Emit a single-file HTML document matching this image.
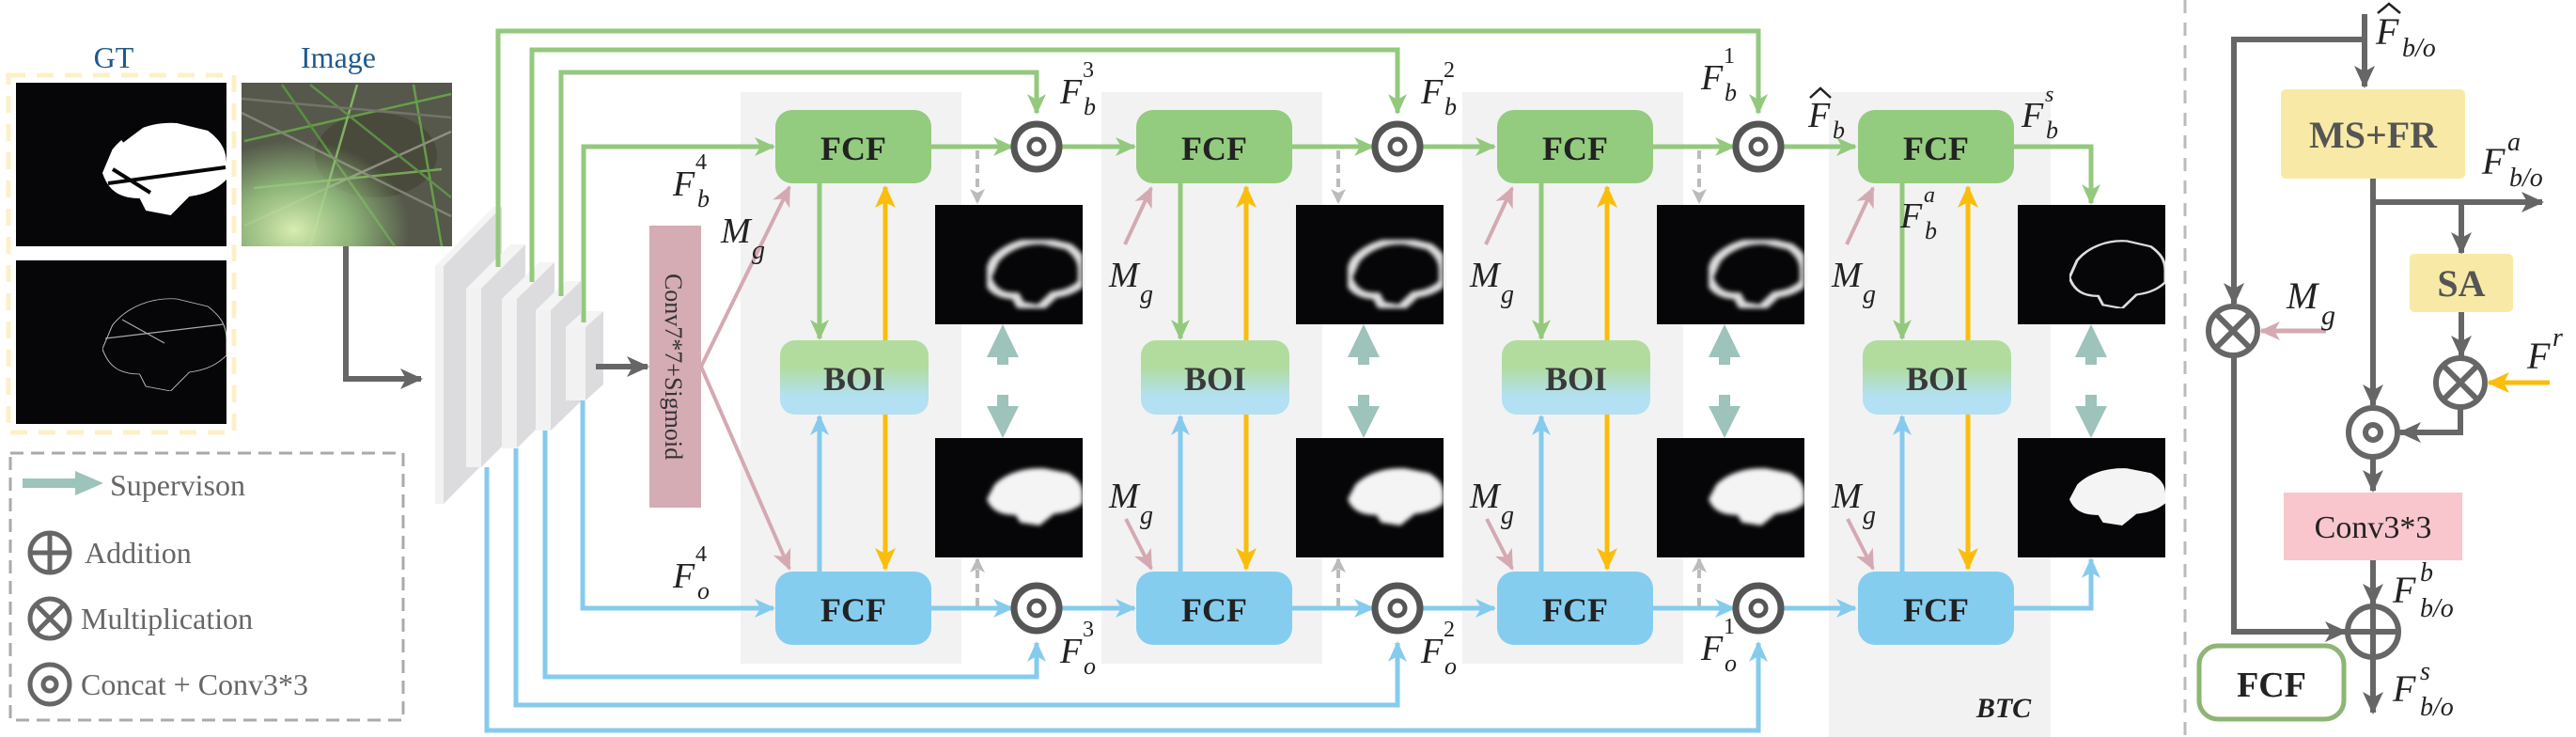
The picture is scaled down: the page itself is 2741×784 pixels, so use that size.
<!DOCTYPE html>
<html><head><meta charset="utf-8">
<style>
html,body{margin:0;padding:0;background:#fff;}
svg{display:block;}
svg text{font-family:"Liberation Serif","DejaVu Serif",serif;}
.m{font-style:italic;fill:#222;}
.b{font-weight:bold;fill:#222;}
</style></head><body>
<svg width="2741" height="784" viewBox="0 0 2741 784" xmlns="http://www.w3.org/2000/svg">
<defs>
<marker id="ag" markerUnits="userSpaceOnUse" markerWidth="24" markerHeight="24" refX="20" refY="12" orient="auto"><path d="M0,2 L22,12 L0,22 L6,12 Z" fill="#93c97d"/></marker>
<marker id="abl" markerUnits="userSpaceOnUse" markerWidth="24" markerHeight="24" refX="20" refY="12" orient="auto"><path d="M0,2 L22,12 L0,22 L6,12 Z" fill="#85cbee"/></marker>
<marker id="ay" markerUnits="userSpaceOnUse" markerWidth="26" markerHeight="26" refX="22" refY="13" orient="auto"><path d="M0,2 L24,13 L0,24 L6,13 Z" fill="#fbbd0c"/></marker>
<marker id="ap" markerUnits="userSpaceOnUse" markerWidth="24" markerHeight="24" refX="20" refY="12" orient="auto"><path d="M0,2 L22,12 L0,22 L6,12 Z" fill="#d5a9b2"/></marker>
<marker id="agr" markerUnits="userSpaceOnUse" markerWidth="26" markerHeight="26" refX="22" refY="13" orient="auto"><path d="M0,2 L24,13 L0,24 L6,13 Z" fill="#666"/></marker>
<marker id="ad" markerUnits="userSpaceOnUse" markerWidth="18" markerHeight="18" refX="14" refY="9" orient="auto"><path d="M0,1 L16,9 L0,17 L4,9 Z" fill="#bbb"/></marker>
<linearGradient id="boi" x1="0" y1="0" x2="0" y2="1"><stop offset="0" stop-color="#b2dc9e"/><stop offset="0.35" stop-color="#b2dc9e"/><stop offset="0.75" stop-color="#b3e0f2"/><stop offset="1" stop-color="#b3e0f2"/></linearGradient>
<radialGradient id="blur" cx="0.25" cy="0.9" r="0.55"><stop offset="0" stop-color="#d9edb0"/><stop offset="0.5" stop-color="#9ccb85" stop-opacity="0.8"/><stop offset="1" stop-color="#9ccb85" stop-opacity="0"/></radialGradient>
<filter id="bl" x="-20%" y="-20%" width="140%" height="140%"><feGaussianBlur stdDeviation="2.5"/></filter>
<symbol id="car" viewBox="0 0 100 100" preserveAspectRatio="none"><path d="M0,55 L8,30 C20,10 40,0 60,2 L85,10 C95,20 100,30 100,45 L100,62 C90,75 80,78 70,80 L55,100 L35,95 L30,82 C15,82 5,75 0,55 Z"/></symbol>
<symbol id="conc"><circle cx="30" cy="30" r="24" fill="#fff" stroke="#555" stroke-width="7"/><circle cx="30" cy="30" r="8" fill="none" stroke="#555" stroke-width="5"/></symbol>
</defs>

<rect x="788" y="98" width="235" height="608" fill="#f2f2f2"/>
<rect x="1172" y="98" width="235" height="608" fill="#f2f2f2"/>
<rect x="1556" y="98" width="235" height="608" fill="#f2f2f2"/>
<rect x="1946" y="98" width="236" height="686" fill="#f2f2f2"/>
<text x="2132" y="763" class="b" font-style="italic" font-size="30" text-anchor="middle">BTC</text>

<text x="121" y="72" font-size="32" fill="#1f5a8c" text-anchor="middle">GT</text>
<text x="360" y="72" font-size="32" fill="#1f5a8c" text-anchor="middle">Image</text>
<rect x="9" y="80" width="240" height="380" fill="none" stroke="#fdf0c8" stroke-width="5" stroke-dasharray="18 12"/>
<rect x="17" y="88" width="224" height="174" fill="#060608"/>
<use href="#car" x="109" y="129" width="132" height="100" fill="#fff"/>
<path d="M115,195 L240,178 M120,180 L160,205 M130,150 L170,120" stroke="#060608" stroke-width="4" fill="none"/>
<rect x="17" y="277" width="224" height="174" fill="#060608"/>
<use href="#car" x="109" y="316" width="132" height="100" fill="none" stroke="#bbb" stroke-width="0.8"/>
<path d="M112,360 L238,345 M130,340 L175,365" stroke="#aaa" stroke-width="1.2" fill="none"/>
<rect x="257" y="88" width="224" height="174" fill="#55584a"/>
<ellipse cx="400" cy="165" rx="65" ry="45" fill="#4a4a3c"/>
<g stroke-width="2.5" fill="none" opacity="0.85">
<path d="M260,150 L480,100" stroke="#6bab4a"/><path d="M270,200 L470,180" stroke="#7fb65a"/><path d="M300,90 L420,262" stroke="#5a9a40"/>
<path d="M380,90 L330,262" stroke="#8bc26a"/><path d="M257,120 L480,230" stroke="#8a8a80"/><path d="M440,90 L470,262" stroke="#6bab4a"/>
<path d="M260,240 L480,140" stroke="#999a8a"/><path d="M330,90 L480,210" stroke="#5f9c48"/><path d="M257,105 L480,125" stroke="#7a7a70"/>
</g>
<rect x="257" y="88" width="224" height="174" fill="url(#blur)"/>
<path d="M368,262 L368,403 L448,403" stroke="#666" stroke-width="6" fill="none" marker-end="url(#agr)"/>

<g>
<polygon points="472,283 534,220 534,473 472,536" fill="#dcdcde"/><polygon points="463,283 525,220 534,220 472,283" fill="#f4f4f4"/><rect x="463" y="283" width="9" height="253" fill="#f2f2f2"/>
<polygon points="512,307 559,260 559,450 512,497" fill="#dcdcde"/><polygon points="496,307 543,260 559,260 512,307" fill="#f4f4f4"/><rect x="496" y="307" width="16" height="190" fill="#f2f2f2"/>
<polygon points="550,318 590,279 590,437 550,477" fill="#dcdcde"/><polygon points="534,318 574,279 590,279 550,318" fill="#f4f4f4"/><rect x="534" y="318" width="16" height="159" fill="#f2f2f2"/>
<polygon points="586,330 618,299 618,427 586,458" fill="#dcdcde"/><polygon points="570,330 602,299 618,299 586,330" fill="#f4f4f4"/><rect x="570" y="330" width="16" height="128" fill="#f2f2f2"/>
<polygon points="623,348 642,331 642,409 623,426" fill="#dcdcde"/><polygon points="602,348 621,331 642,331 623,348" fill="#f4f4f4"/><rect x="602" y="348" width="21" height="78" fill="#f2f2f2"/>
</g>
<g stroke="#93c97d" stroke-width="5" fill="none">
<path d="M530,284 L530,33 L1871,33 L1871,120" marker-end="url(#ag)"/>
<path d="M566,300 L566,53 L1487,53 L1487,120" marker-end="url(#ag)"/>
<path d="M597,315 L597,77 L1103,77 L1103,120" marker-end="url(#ag)"/>
<path d="M621,343 L621,156 L823,156" marker-end="url(#ag)"/>
</g>
<g stroke="#85cbee" stroke-width="5" fill="none">
<path d="M620,426 L620,647 L823,647" marker-end="url(#abl)"/>
<path d="M580,458 L580,720 L1103,720 L1103,684" marker-end="url(#abl)"/>
<path d="M549,477 L549,750 L1487,750 L1487,684" marker-end="url(#abl)"/>
<path d="M518,497 L518,777 L1871,777 L1871,684" marker-end="url(#abl)"/>
</g>
<path d="M634,390 L689,390" stroke="#666" stroke-width="6" marker-end="url(#agr)"/>
<rect x="691" y="240" width="55" height="300" fill="#d5abb4"/>
<text transform="translate(708,390) rotate(90)" font-size="26" fill="#333" text-anchor="middle">Conv7*7+Sigmoid</text>
<path d="M746,390 L840,199" stroke="#d5a9b2" stroke-width="4" marker-end="url(#ap)"/>
<path d="M746,390 L840,605" stroke="#d5a9b2" stroke-width="4" marker-end="url(#ap)"/>

<g stroke="#93c97d" stroke-width="5" fill="none">
<path d="M991,156 L1077,156" marker-end="url(#ag)"/><path d="M1127,156 L1207,156" marker-end="url(#ag)"/>
<path d="M1375,156 L1461,156" marker-end="url(#ag)"/><path d="M1511,156 L1590,156" marker-end="url(#ag)"/>
<path d="M1758,156 L1845,156" marker-end="url(#ag)"/><path d="M1895,156 L1974,156" marker-end="url(#ag)"/>
<path d="M2142,156 L2225,156 L2225,216" marker-end="url(#ag)"/>
</g>
<g stroke="#85cbee" stroke-width="5" fill="none">
<path d="M991,647 L1077,647" marker-end="url(#abl)"/><path d="M1127,647 L1207,647" marker-end="url(#abl)"/>
<path d="M1375,647 L1461,647" marker-end="url(#abl)"/><path d="M1511,647 L1590,647" marker-end="url(#abl)"/>
<path d="M1758,647 L1845,647" marker-end="url(#abl)"/><path d="M1895,647 L1974,647" marker-end="url(#abl)"/>
<path d="M2142,647 L2225,647 L2225,595" marker-end="url(#abl)"/>
</g>
<use href="#conc" x="1073" y="126"/><use href="#conc" x="1457" y="126"/><use href="#conc" x="1841" y="126"/>
<use href="#conc" x="1073" y="617"/><use href="#conc" x="1457" y="617"/><use href="#conc" x="1841" y="617"/>

<g id="col">
<path d="M872,195 L872,360" stroke="#93c97d" stroke-width="5" marker-end="url(#ag)"/>
<path d="M872,608 L872,443" stroke="#85cbee" stroke-width="5" marker-end="url(#abl)"/>
<path d="M942,362 L942,199" stroke="#fbbd0c" stroke-width="5" marker-end="url(#ay)"/>
<path d="M942,441 L942,605" stroke="#fbbd0c" stroke-width="5" marker-end="url(#ay)"/>
<rect x="825" y="117" width="166" height="78" rx="18" fill="#93cb7f"/>
<text x="908" y="170" class="b" font-size="36" text-anchor="middle">FCF</text>
<rect x="830" y="362" width="158" height="79" rx="16" fill="url(#boi)"/>
<text x="909" y="415" class="b" font-size="36" text-anchor="middle" style="fill:#3a3a3a">BOI</text>
<rect x="825" y="608" width="166" height="78" rx="18" fill="#85cdee"/>
<text x="908" y="661" class="b" font-size="36" text-anchor="middle">FCF</text>
</g>
<use href="#col" x="384"/><use href="#col" x="768"/><use href="#col" x="1152"/>

<g id="tiles">
<path d="M1040,160 L1040,215" stroke="#bbb" stroke-width="4" stroke-dasharray="9 6" marker-end="url(#ad)"/>
<path d="M1040,645 L1040,595" stroke="#bbb" stroke-width="4" stroke-dasharray="9 6" marker-end="url(#ad)"/>
<rect x="995" y="218" width="157" height="127" fill="#060608"/>
<use href="#car" x="1050" y="255" width="102" height="73" fill="none" stroke="#ddd" stroke-width="10" filter="url(#bl)"/>
<rect x="995" y="466" width="157" height="127" fill="#060608"/>
<use href="#car" x="1050" y="497" width="102" height="62" fill="#f4f4f4" filter="url(#bl)"/>
<path d="M1067,345 L1084,380 L1073,380 L1073,388 L1061,388 L1061,380 L1050,380 Z" fill="#9dc3bb"/>
<path d="M1067,466 L1084,432 L1073,432 L1073,420 L1061,420 L1061,432 L1050,432 Z" fill="#9dc3bb"/>
</g>
<use href="#tiles" x="384"/><use href="#tiles" x="768"/>
<rect x="2147" y="218" width="157" height="127" fill="#060608"/>
<use href="#car" x="2202" y="255" width="102" height="73" fill="none" stroke="#ddd" stroke-width="3"/>
<rect x="2147" y="466" width="157" height="127" fill="#060608"/>
<use href="#car" x="2202" y="497" width="102" height="62" fill="#f4f4f4"/>
<path d="M2225,345 L2242,380 L2231,380 L2231,388 L2219,388 L2219,380 L2208,380 Z" fill="#9dc3bb"/>
<path d="M2225,466 L2242,432 L2231,432 L2231,420 L2219,420 L2219,432 L2208,432 Z" fill="#9dc3bb"/>

<g stroke="#d5a9b2" stroke-width="4" fill="none">
<path d="M1197,260 L1225,200" marker-end="url(#ap)"/><path d="M1198,552 L1225,605" marker-end="url(#ap)"/>
<path d="M1581,260 L1609,200" marker-end="url(#ap)"/><path d="M1582,552 L1609,605" marker-end="url(#ap)"/>
<path d="M1965,260 L1993,200" marker-end="url(#ap)"/><path d="M1966,552 L1993,605" marker-end="url(#ap)"/>
</g>

<g class="m" font-size="38">
<text x="716" y="208">F</text><text x="740" y="180" font-style="normal" font-size="24">4</text><text x="742" y="220" font-size="26">b</text>
<text x="716" y="625">F</text><text x="740" y="597" font-style="normal" font-size="24">4</text><text x="742" y="637" font-size="26">o</text>
<text x="767" y="258">M</text><text x="800" y="275" font-size="28">g</text>
<text x="1180" y="305">M</text><text x="1213" y="322" font-size="28">g</text>
<text x="1180" y="540">M</text><text x="1213" y="557" font-size="28">g</text>
<text x="1564" y="305">M</text><text x="1597" y="322" font-size="28">g</text>
<text x="1564" y="540">M</text><text x="1597" y="557" font-size="28">g</text>
<text x="1949" y="305">M</text><text x="1982" y="322" font-size="28">g</text>
<text x="1949" y="540">M</text><text x="1982" y="557" font-size="28">g</text>
<text x="1128" y="110">F</text><text x="1152" y="82" font-style="normal" font-size="24">3</text><text x="1153" y="122" font-size="26">b</text>
<text x="1512" y="110">F</text><text x="1536" y="82" font-style="normal" font-size="24">2</text><text x="1537" y="122" font-size="26">b</text>
<text x="1810" y="95">F</text><text x="1834" y="67" font-style="normal" font-size="24">1</text><text x="1835" y="107" font-size="26">b</text>
<text x="1128" y="705">F</text><text x="1152" y="677" font-style="normal" font-size="24">3</text><text x="1153" y="717" font-size="26">o</text>
<text x="1512" y="705">F</text><text x="1536" y="677" font-style="normal" font-size="24">2</text><text x="1537" y="717" font-size="26">o</text>
<text x="1810" y="702">F</text><text x="1834" y="674" font-style="normal" font-size="24">1</text><text x="1835" y="714" font-size="26">o</text>
<text x="1924" y="135">F</text><text x="1950" y="147" font-size="26">b</text>
<text x="2151" y="135">F</text><text x="2176" y="108" font-size="24">s</text><text x="2177" y="147" font-size="26">b</text>
<text x="2022" y="242">F</text><text x="2047" y="215" font-size="24">a</text><text x="2048" y="254" font-size="26">b</text>
</g>
<path d="M1926,104 L1937,94 L1948,104" stroke="#222" stroke-width="2.5" fill="none"/>

<rect x="11" y="482" width="418" height="284" fill="none" stroke="#aaa" stroke-width="3" stroke-dasharray="14 8"/>
<path d="M80,501 L110,514 L80,527 Z" fill="#9dc3bb"/>
<rect x="24" y="509" width="58" height="10" fill="#9dc3bb"/>
<g font-size="32" fill="#666">
<text x="117" y="527">Supervison</text>
<text x="90" y="599">Addition</text>
<text x="86" y="669">Multiplication</text>
<text x="86" y="739">Concat + Conv3*3</text>
</g>
<g stroke="#666" stroke-width="5" fill="none">
<circle cx="53" cy="588" r="21"/><path d="M32,588 L74,588 M53,567 L53,609"/>
<circle cx="53" cy="658" r="21"/><path d="M38,643 L68,673 M68,643 L38,673"/>
<circle cx="53" cy="728" r="21"/><circle cx="53" cy="728" r="7"/>
</g>

<path d="M2325,0 L2325,784" stroke="#bbb" stroke-width="3" stroke-dasharray="14 10"/>

<g stroke="#666" stroke-width="6" fill="none">
<path d="M2516,15 L2516,92" marker-end="url(#agr)"/>
<path d="M2516,42 L2377,42 L2377,323" marker-end="url(#agr)"/>
<path d="M2525,190 L2525,431" marker-end="url(#agr)"/>
<path d="M2525,215 L2705,215" marker-end="url(#agr)"/>
<path d="M2619,215 L2619,269" marker-end="url(#agr)"/>
<path d="M2619,332 L2619,379" marker-end="url(#agr)"/>
<path d="M2618,434 L2618,460 L2554,460" marker-end="url(#agr)"/>
<path d="M2525,487 L2525,522" marker-end="url(#agr)"/>
<path d="M2525,596 L2525,643" marker-end="url(#agr)"/>
<path d="M2377,379 L2377,672 L2496,672" marker-end="url(#agr)"/>
<path d="M2525,700 L2525,758" marker-end="url(#agr)"/>
</g>
<rect x="2427" y="95" width="196" height="95" rx="5" fill="#f8eaa6"/>
<text x="2525" y="157" class="b" font-size="40" text-anchor="middle" style="fill:#555">MS+FR</text>
<rect x="2564" y="270" width="110" height="62" rx="5" fill="#f8eaa6"/>
<text x="2619" y="315" class="b" font-size="40" text-anchor="middle" style="fill:#555">SA</text>
<rect x="2430" y="524" width="190" height="72" fill="#f8c6cc"/>
<text x="2525" y="572" font-size="34" fill="#222" text-anchor="middle">Conv3*3</text>
<g stroke="#666" stroke-width="6" fill="#fff">
<circle cx="2376" cy="352" r="26"/><path d="M2358,334 L2394,370 M2394,334 L2358,370" fill="none"/>
<circle cx="2618" cy="407" r="26"/><path d="M2600,389 L2636,425 M2636,389 L2600,425" fill="none"/>
<circle cx="2525" cy="460" r="26"/><circle cx="2525" cy="460" r="8" fill="none"/>
<circle cx="2525" cy="672" r="27"/><path d="M2498,672 L2552,672 M2525,645 L2525,699" fill="none"/>
</g>
<path d="M2475,352 L2406,352" stroke="#d5a9b2" stroke-width="5" marker-end="url(#ap)"/>
<path d="M2713,407 L2648,407" stroke="#fbbd0c" stroke-width="5" marker-end="url(#ay)"/>
<rect x="2340" y="687" width="154" height="78" rx="20" fill="none" stroke="#8db573" stroke-width="5"/>
<text x="2417" y="741" class="b" font-size="38" text-anchor="middle">FCF</text>
<g class="m" font-size="40">
<text x="2528" y="47">F</text><text x="2556" y="60" font-size="28">b/o</text>
<text x="2641" y="185">F</text><text x="2668" y="160" font-size="28">a</text><text x="2670" y="198" font-size="28">b/o</text>
<text x="2433" y="328">M</text><text x="2470" y="345" font-size="30">g</text>
<text x="2689" y="392">F</text><text x="2716" y="368" font-size="28">r</text>
<text x="2546" y="641">F</text><text x="2575" y="618" font-size="28">b</text><text x="2575" y="656" font-size="28">b/o</text>
<text x="2546" y="746">F</text><text x="2575" y="723" font-size="28">s</text><text x="2575" y="761" font-size="28">b/o</text>
</g>
<path d="M2530,14 L2542,4 L2554,14" stroke="#222" stroke-width="2.5" fill="none"/>
</svg>
</body></html>
